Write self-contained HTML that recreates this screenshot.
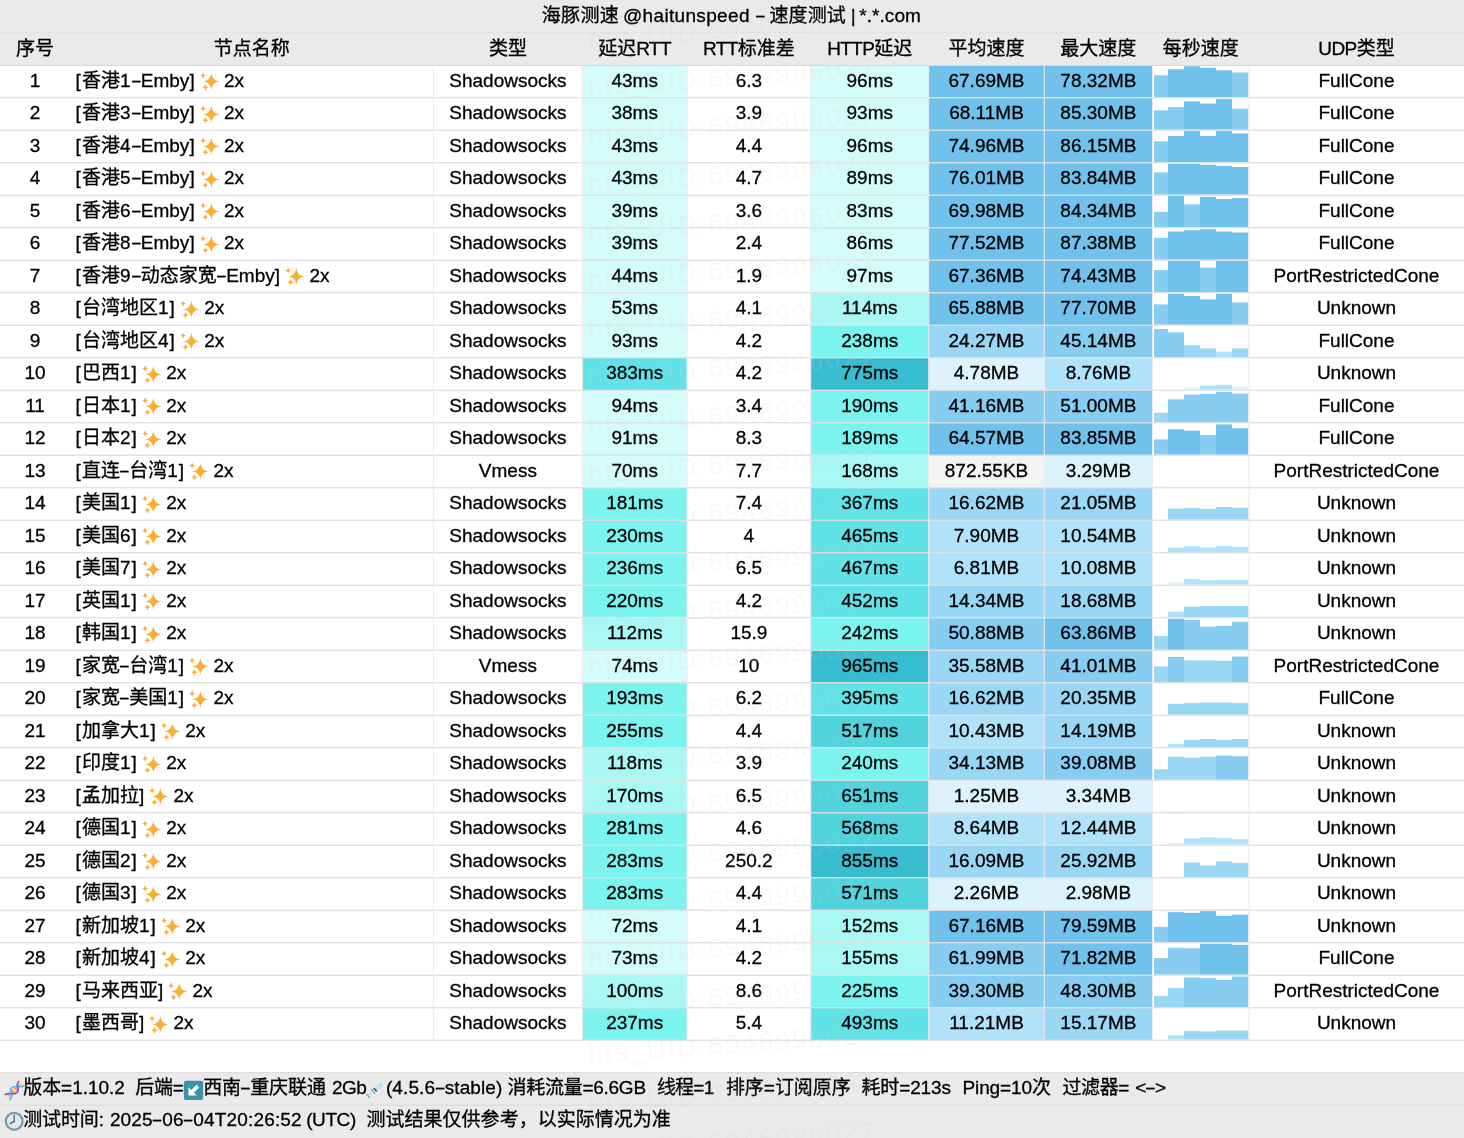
<!DOCTYPE html>
<html lang="zh-CN"><head><meta charset="utf-8"><title>海豚测速 - 速度测试</title>
<style>
html,body{margin:0;padding:0;background:#fff}
body{width:1464px;height:1138px;overflow:hidden;position:relative;font-family:"Liberation Sans","Noto Sans CJK SC",sans-serif;font-size:19px;color:#000;-webkit-text-stroke:0.3px #000}
#t{position:absolute;left:0;top:0;width:1464px;height:1138px;overflow:hidden;background:#fff}
#bg{position:absolute;left:0;top:0}
.c{position:absolute;height:32.5px;line-height:32.5px;text-align:center;white-space:nowrap}
.n{text-align:left}
.sp{display:inline-block;vertical-align:-5.6px;margin:0 4.2px 0 4.2px}
.hy{display:inline-block;transform:scaleX(1.75);margin:0 1.5px}
.dg{letter-spacing:1px}
.hl{letter-spacing:-0.6px}
.wm{position:absolute;left:588px;font-size:26px;line-height:30px;height:30px;white-space:nowrap;color:rgba(120,120,130,0.045);-webkit-text-stroke:0;transform:rotate(-4deg);transform-origin:0 50%;letter-spacing:2.4px;text-shadow:0 0 1px rgba(255,255,255,0.12)}
</style></head><body><div id="t">
<svg id="bg" width="1464" height="1138" viewBox="0 0 1464 1138">
<rect x="0.00" y="0.00" width="1464.00" height="65.50" fill="#eaeaea"/>
<rect x="0.00" y="1072.50" width="1464.00" height="66.00" fill="#eaeaea"/>
<rect x="582.40" y="65.00" width="104.60" height="32.50" fill="#d4fcfa"/>
<rect x="810.75" y="65.00" width="118.00" height="32.50" fill="#d4fcfa"/>
<rect x="928.75" y="65.00" width="115.50" height="32.50" fill="#70c1ec"/>
<rect x="1044.25" y="65.00" width="108.25" height="32.50" fill="#70c1ec"/>
<rect x="1154.00" y="75.29" width="14.00" height="21.91" fill="#86cdf1"/>
<rect x="1168.00" y="69.34" width="16.00" height="27.86" fill="#70c1ec"/>
<rect x="1184.00" y="66.21" width="16.00" height="30.99" fill="#70c1ec"/>
<rect x="1200.00" y="67.78" width="16.00" height="29.42" fill="#70c1ec"/>
<rect x="1216.00" y="70.28" width="16.00" height="26.92" fill="#70c1ec"/>
<rect x="1232.00" y="72.47" width="16.30" height="24.73" fill="#86cdf1"/>
<rect x="582.40" y="97.50" width="104.60" height="32.50" fill="#d4fcfa"/>
<rect x="810.75" y="97.50" width="118.00" height="32.50" fill="#d4fcfa"/>
<rect x="928.75" y="97.50" width="115.50" height="32.50" fill="#70c1ec"/>
<rect x="1044.25" y="97.50" width="108.25" height="32.50" fill="#70c1ec"/>
<rect x="1154.00" y="110.29" width="14.00" height="19.41" fill="#86cdf1"/>
<rect x="1168.00" y="107.16" width="16.00" height="22.54" fill="#86cdf1"/>
<rect x="1184.00" y="101.37" width="16.00" height="28.33" fill="#70c1ec"/>
<rect x="1200.00" y="103.56" width="16.00" height="26.14" fill="#70c1ec"/>
<rect x="1216.00" y="99.03" width="16.00" height="30.67" fill="#70c1ec"/>
<rect x="1232.00" y="108.73" width="16.30" height="20.97" fill="#86cdf1"/>
<rect x="582.40" y="130.00" width="104.60" height="32.50" fill="#d4fcfa"/>
<rect x="810.75" y="130.00" width="118.00" height="32.50" fill="#d4fcfa"/>
<rect x="928.75" y="130.00" width="115.50" height="32.50" fill="#70c1ec"/>
<rect x="1044.25" y="130.00" width="108.25" height="32.50" fill="#70c1ec"/>
<rect x="1154.00" y="141.32" width="14.00" height="20.88" fill="#86cdf1"/>
<rect x="1168.00" y="135.91" width="16.00" height="26.29" fill="#70c1ec"/>
<rect x="1184.00" y="131.06" width="16.00" height="31.14" fill="#70c1ec"/>
<rect x="1200.00" y="135.91" width="16.00" height="26.29" fill="#70c1ec"/>
<rect x="1216.00" y="131.06" width="16.00" height="31.14" fill="#70c1ec"/>
<rect x="1232.00" y="133.40" width="16.30" height="28.80" fill="#70c1ec"/>
<rect x="582.40" y="162.50" width="104.60" height="32.50" fill="#d4fcfa"/>
<rect x="810.75" y="162.50" width="118.00" height="32.50" fill="#d4fcfa"/>
<rect x="928.75" y="162.50" width="115.50" height="32.50" fill="#70c1ec"/>
<rect x="1044.25" y="162.50" width="108.25" height="32.50" fill="#70c1ec"/>
<rect x="1154.00" y="172.48" width="14.00" height="22.22" fill="#86cdf1"/>
<rect x="1168.00" y="163.71" width="16.00" height="30.99" fill="#70c1ec"/>
<rect x="1184.00" y="163.71" width="16.00" height="30.99" fill="#70c1ec"/>
<rect x="1200.00" y="164.75" width="16.00" height="29.95" fill="#70c1ec"/>
<rect x="1216.00" y="165.90" width="16.00" height="28.80" fill="#70c1ec"/>
<rect x="1232.00" y="167.00" width="16.30" height="27.70" fill="#70c1ec"/>
<rect x="582.40" y="195.00" width="104.60" height="32.50" fill="#d4fcfa"/>
<rect x="810.75" y="195.00" width="118.00" height="32.50" fill="#d4fcfa"/>
<rect x="928.75" y="195.00" width="115.50" height="32.50" fill="#70c1ec"/>
<rect x="1044.25" y="195.00" width="108.25" height="32.50" fill="#70c1ec"/>
<rect x="1154.00" y="211.86" width="14.00" height="15.34" fill="#86cdf1"/>
<rect x="1168.00" y="195.90" width="16.00" height="31.30" fill="#70c1ec"/>
<rect x="1184.00" y="204.35" width="16.00" height="22.85" fill="#86cdf1"/>
<rect x="1200.00" y="196.93" width="16.00" height="30.27" fill="#70c1ec"/>
<rect x="1216.00" y="199.03" width="16.00" height="28.17" fill="#70c1ec"/>
<rect x="1232.00" y="198.09" width="16.30" height="29.11" fill="#70c1ec"/>
<rect x="582.40" y="227.50" width="104.60" height="32.50" fill="#d4fcfa"/>
<rect x="810.75" y="227.50" width="118.00" height="32.50" fill="#d4fcfa"/>
<rect x="928.75" y="227.50" width="115.50" height="32.50" fill="#70c1ec"/>
<rect x="1044.25" y="227.50" width="108.25" height="32.50" fill="#70c1ec"/>
<rect x="1154.00" y="237.79" width="14.00" height="21.91" fill="#86cdf1"/>
<rect x="1168.00" y="231.53" width="16.00" height="28.17" fill="#70c1ec"/>
<rect x="1184.00" y="230.28" width="16.00" height="29.42" fill="#70c1ec"/>
<rect x="1200.00" y="229.18" width="16.00" height="30.52" fill="#70c1ec"/>
<rect x="1216.00" y="231.53" width="16.00" height="28.17" fill="#70c1ec"/>
<rect x="1232.00" y="232.47" width="16.30" height="27.23" fill="#70c1ec"/>
<rect x="582.40" y="260.00" width="104.60" height="32.50" fill="#d4fcfa"/>
<rect x="810.75" y="260.00" width="118.00" height="32.50" fill="#d4fcfa"/>
<rect x="928.75" y="260.00" width="115.50" height="32.50" fill="#70c1ec"/>
<rect x="1044.25" y="260.00" width="108.25" height="32.50" fill="#70c1ec"/>
<rect x="1154.00" y="270.13" width="14.00" height="22.07" fill="#86cdf1"/>
<rect x="1168.00" y="260.90" width="16.00" height="31.30" fill="#70c1ec"/>
<rect x="1184.00" y="260.90" width="16.00" height="31.30" fill="#70c1ec"/>
<rect x="1200.00" y="267.63" width="16.00" height="24.57" fill="#86cdf1"/>
<rect x="1216.00" y="260.90" width="16.00" height="31.30" fill="#70c1ec"/>
<rect x="1232.00" y="260.90" width="16.30" height="31.30" fill="#70c1ec"/>
<rect x="582.40" y="292.50" width="104.60" height="32.50" fill="#d4fcfa"/>
<rect x="810.75" y="292.50" width="118.00" height="32.50" fill="#a9f8f4"/>
<rect x="928.75" y="292.50" width="115.50" height="32.50" fill="#70c1ec"/>
<rect x="1044.25" y="292.50" width="108.25" height="32.50" fill="#70c1ec"/>
<rect x="1154.00" y="304.35" width="14.00" height="20.35" fill="#86cdf1"/>
<rect x="1168.00" y="293.87" width="16.00" height="30.83" fill="#70c1ec"/>
<rect x="1184.00" y="295.90" width="16.00" height="28.80" fill="#70c1ec"/>
<rect x="1200.00" y="299.35" width="16.00" height="25.35" fill="#70c1ec"/>
<rect x="1216.00" y="293.87" width="16.00" height="30.83" fill="#70c1ec"/>
<rect x="1232.00" y="302.48" width="16.30" height="22.22" fill="#86cdf1"/>
<rect x="582.40" y="325.00" width="104.60" height="32.50" fill="#d4fcfa"/>
<rect x="810.75" y="325.00" width="118.00" height="32.50" fill="#7bf4f0"/>
<rect x="928.75" y="325.00" width="115.50" height="32.50" fill="#9ad7f5"/>
<rect x="1044.25" y="325.00" width="108.25" height="32.50" fill="#86cdf1"/>
<rect x="1154.00" y="329.03" width="14.00" height="28.17" fill="#86cdf1"/>
<rect x="1168.00" y="332.47" width="16.00" height="24.73" fill="#86cdf1"/>
<rect x="1184.00" y="345.15" width="16.00" height="12.05" fill="#9ad7f5"/>
<rect x="1200.00" y="348.44" width="16.00" height="8.76" fill="#9ad7f5"/>
<rect x="1216.00" y="351.57" width="16.00" height="5.63" fill="#b0e3fa"/>
<rect x="1232.00" y="348.44" width="16.30" height="8.76" fill="#9ad7f5"/>
<rect x="582.40" y="357.50" width="104.60" height="32.50" fill="#60e2e6"/>
<rect x="810.75" y="357.50" width="118.00" height="32.50" fill="#38bcd0"/>
<rect x="928.75" y="357.50" width="115.50" height="32.50" fill="#dcf3fd"/>
<rect x="1044.25" y="357.50" width="108.25" height="32.50" fill="#b0e3fa"/>
<rect x="1184.00" y="387.51" width="16.00" height="2.19" fill="#dcf3fd"/>
<rect x="1200.00" y="385.63" width="16.00" height="4.07" fill="#b0e3fa"/>
<rect x="1216.00" y="384.85" width="16.00" height="4.85" fill="#b0e3fa"/>
<rect x="1232.00" y="386.41" width="16.30" height="3.29" fill="#dcf3fd"/>
<rect x="582.40" y="390.00" width="104.60" height="32.50" fill="#d4fcfa"/>
<rect x="810.75" y="390.00" width="118.00" height="32.50" fill="#7bf4f0"/>
<rect x="928.75" y="390.00" width="115.50" height="32.50" fill="#86cdf1"/>
<rect x="1044.25" y="390.00" width="108.25" height="32.50" fill="#86cdf1"/>
<rect x="1154.00" y="412.65" width="14.00" height="9.55" fill="#9ad7f5"/>
<rect x="1168.00" y="399.35" width="16.00" height="22.85" fill="#86cdf1"/>
<rect x="1184.00" y="394.66" width="16.00" height="27.54" fill="#86cdf1"/>
<rect x="1200.00" y="393.87" width="16.00" height="28.33" fill="#86cdf1"/>
<rect x="1216.00" y="391.93" width="16.00" height="30.27" fill="#86cdf1"/>
<rect x="1232.00" y="393.56" width="16.30" height="28.64" fill="#86cdf1"/>
<rect x="582.40" y="422.50" width="104.60" height="32.50" fill="#d4fcfa"/>
<rect x="810.75" y="422.50" width="118.00" height="32.50" fill="#7bf4f0"/>
<rect x="928.75" y="422.50" width="115.50" height="32.50" fill="#70c1ec"/>
<rect x="1044.25" y="422.50" width="108.25" height="32.50" fill="#70c1ec"/>
<rect x="1154.00" y="439.36" width="14.00" height="15.34" fill="#86cdf1"/>
<rect x="1168.00" y="429.35" width="16.00" height="25.35" fill="#70c1ec"/>
<rect x="1184.00" y="430.60" width="16.00" height="24.10" fill="#70c1ec"/>
<rect x="1200.00" y="434.98" width="16.00" height="19.72" fill="#86cdf1"/>
<rect x="1216.00" y="424.34" width="16.00" height="30.36" fill="#70c1ec"/>
<rect x="1232.00" y="428.25" width="16.30" height="26.45" fill="#70c1ec"/>
<rect x="582.40" y="455.00" width="104.60" height="32.50" fill="#d4fcfa"/>
<rect x="810.75" y="455.00" width="118.00" height="32.50" fill="#a9f8f4"/>
<rect x="928.75" y="455.00" width="115.50" height="32.50" fill="#f3f3f3"/>
<rect x="1044.25" y="455.00" width="108.25" height="32.50" fill="#dcf3fd"/>
<rect x="1154.00" y="486.57" width="14.00" height="0.63" fill="#dcf3fd"/>
<rect x="1168.00" y="486.73" width="16.00" height="0.47" fill="#dcf3fd"/>
<rect x="582.40" y="487.50" width="104.60" height="32.50" fill="#7bf4f0"/>
<rect x="810.75" y="487.50" width="118.00" height="32.50" fill="#60e2e6"/>
<rect x="928.75" y="487.50" width="115.50" height="32.50" fill="#9ad7f5"/>
<rect x="1044.25" y="487.50" width="108.25" height="32.50" fill="#9ad7f5"/>
<rect x="1168.00" y="508.53" width="16.00" height="11.17" fill="#9ad7f5"/>
<rect x="1184.00" y="507.93" width="16.00" height="11.77" fill="#9ad7f5"/>
<rect x="1200.00" y="508.81" width="16.00" height="10.89" fill="#9ad7f5"/>
<rect x="1216.00" y="507.02" width="16.00" height="12.68" fill="#9ad7f5"/>
<rect x="1232.00" y="507.81" width="16.30" height="11.89" fill="#9ad7f5"/>
<rect x="582.40" y="520.00" width="104.60" height="32.50" fill="#7bf4f0"/>
<rect x="810.75" y="520.00" width="118.00" height="32.50" fill="#60e2e6"/>
<rect x="928.75" y="520.00" width="115.50" height="32.50" fill="#b0e3fa"/>
<rect x="1044.25" y="520.00" width="108.25" height="32.50" fill="#b0e3fa"/>
<rect x="1168.00" y="547.72" width="16.00" height="4.48" fill="#b0e3fa"/>
<rect x="1184.00" y="546.25" width="16.00" height="5.95" fill="#b0e3fa"/>
<rect x="1200.00" y="547.44" width="16.00" height="4.76" fill="#b0e3fa"/>
<rect x="1216.00" y="545.94" width="16.00" height="6.26" fill="#b0e3fa"/>
<rect x="1232.00" y="546.97" width="16.30" height="5.23" fill="#b0e3fa"/>
<rect x="582.40" y="552.50" width="104.60" height="32.50" fill="#7bf4f0"/>
<rect x="810.75" y="552.50" width="118.00" height="32.50" fill="#60e2e6"/>
<rect x="928.75" y="552.50" width="115.50" height="32.50" fill="#b0e3fa"/>
<rect x="1044.25" y="552.50" width="108.25" height="32.50" fill="#b0e3fa"/>
<rect x="1168.00" y="582.51" width="16.00" height="2.19" fill="#dcf3fd"/>
<rect x="1184.00" y="579.07" width="16.00" height="5.63" fill="#b0e3fa"/>
<rect x="1200.00" y="580.32" width="16.00" height="4.38" fill="#b0e3fa"/>
<rect x="1216.00" y="579.85" width="16.00" height="4.85" fill="#b0e3fa"/>
<rect x="1232.00" y="579.85" width="16.30" height="4.85" fill="#b0e3fa"/>
<rect x="582.40" y="585.00" width="104.60" height="32.50" fill="#7bf4f0"/>
<rect x="810.75" y="585.00" width="118.00" height="32.50" fill="#60e2e6"/>
<rect x="928.75" y="585.00" width="115.50" height="32.50" fill="#9ad7f5"/>
<rect x="1044.25" y="585.00" width="108.25" height="32.50" fill="#9ad7f5"/>
<rect x="1168.00" y="611.57" width="16.00" height="5.63" fill="#b0e3fa"/>
<rect x="1184.00" y="606.62" width="16.00" height="10.58" fill="#9ad7f5"/>
<rect x="1200.00" y="606.03" width="16.00" height="11.17" fill="#9ad7f5"/>
<rect x="1216.00" y="606.03" width="16.00" height="11.17" fill="#9ad7f5"/>
<rect x="1232.00" y="606.03" width="16.30" height="11.17" fill="#9ad7f5"/>
<rect x="582.40" y="617.50" width="104.60" height="32.50" fill="#a9f8f4"/>
<rect x="810.75" y="617.50" width="118.00" height="32.50" fill="#7bf4f0"/>
<rect x="928.75" y="617.50" width="115.50" height="32.50" fill="#86cdf1"/>
<rect x="1044.25" y="617.50" width="108.25" height="32.50" fill="#70c1ec"/>
<rect x="1154.00" y="636.01" width="14.00" height="13.69" fill="#9ad7f5"/>
<rect x="1168.00" y="618.71" width="16.00" height="30.99" fill="#70c1ec"/>
<rect x="1184.00" y="619.97" width="16.00" height="29.73" fill="#86cdf1"/>
<rect x="1200.00" y="626.69" width="16.00" height="23.01" fill="#86cdf1"/>
<rect x="1216.00" y="625.91" width="16.00" height="23.79" fill="#86cdf1"/>
<rect x="1232.00" y="621.84" width="16.30" height="27.86" fill="#86cdf1"/>
<rect x="582.40" y="650.00" width="104.60" height="32.50" fill="#d4fcfa"/>
<rect x="810.75" y="650.00" width="118.00" height="32.50" fill="#38bcd0"/>
<rect x="928.75" y="650.00" width="115.50" height="32.50" fill="#9ad7f5"/>
<rect x="1044.25" y="650.00" width="108.25" height="32.50" fill="#86cdf1"/>
<rect x="1154.00" y="666.39" width="14.00" height="15.81" fill="#9ad7f5"/>
<rect x="1168.00" y="656.85" width="16.00" height="25.35" fill="#86cdf1"/>
<rect x="1184.00" y="660.29" width="16.00" height="21.91" fill="#9ad7f5"/>
<rect x="1200.00" y="660.29" width="16.00" height="21.91" fill="#9ad7f5"/>
<rect x="1216.00" y="660.60" width="16.00" height="21.60" fill="#9ad7f5"/>
<rect x="1232.00" y="656.53" width="16.30" height="25.67" fill="#86cdf1"/>
<rect x="582.40" y="682.50" width="104.60" height="32.50" fill="#7bf4f0"/>
<rect x="810.75" y="682.50" width="118.00" height="32.50" fill="#60e2e6"/>
<rect x="928.75" y="682.50" width="115.50" height="32.50" fill="#9ad7f5"/>
<rect x="1044.25" y="682.50" width="108.25" height="32.50" fill="#9ad7f5"/>
<rect x="1168.00" y="703.75" width="16.00" height="10.96" fill="#9ad7f5"/>
<rect x="1184.00" y="702.96" width="16.00" height="11.74" fill="#9ad7f5"/>
<rect x="1200.00" y="702.49" width="16.00" height="12.21" fill="#9ad7f5"/>
<rect x="1216.00" y="702.49" width="16.00" height="12.21" fill="#9ad7f5"/>
<rect x="1232.00" y="702.96" width="16.30" height="11.74" fill="#9ad7f5"/>
<rect x="582.40" y="715.00" width="104.60" height="32.50" fill="#7bf4f0"/>
<rect x="810.75" y="715.00" width="118.00" height="32.50" fill="#50d3dc"/>
<rect x="928.75" y="715.00" width="115.50" height="32.50" fill="#b0e3fa"/>
<rect x="1044.25" y="715.00" width="108.25" height="32.50" fill="#9ad7f5"/>
<rect x="1168.00" y="743.91" width="16.00" height="3.29" fill="#b0e3fa"/>
<rect x="1184.00" y="739.91" width="16.00" height="7.29" fill="#9ad7f5"/>
<rect x="1200.00" y="739.00" width="16.00" height="8.20" fill="#9ad7f5"/>
<rect x="1216.00" y="739.91" width="16.00" height="7.29" fill="#9ad7f5"/>
<rect x="1232.00" y="739.00" width="16.30" height="8.20" fill="#9ad7f5"/>
<rect x="582.40" y="747.50" width="104.60" height="32.50" fill="#a9f8f4"/>
<rect x="810.75" y="747.50" width="118.00" height="32.50" fill="#7bf4f0"/>
<rect x="928.75" y="747.50" width="115.50" height="32.50" fill="#9ad7f5"/>
<rect x="1044.25" y="747.50" width="108.25" height="32.50" fill="#86cdf1"/>
<rect x="1154.00" y="769.28" width="14.00" height="10.42" fill="#9ad7f5"/>
<rect x="1168.00" y="756.76" width="16.00" height="22.94" fill="#9ad7f5"/>
<rect x="1184.00" y="757.79" width="16.00" height="21.91" fill="#9ad7f5"/>
<rect x="1200.00" y="756.76" width="16.00" height="22.94" fill="#9ad7f5"/>
<rect x="1216.00" y="755.60" width="16.00" height="24.10" fill="#86cdf1"/>
<rect x="1232.00" y="756.23" width="16.30" height="23.48" fill="#86cdf1"/>
<rect x="582.40" y="780.00" width="104.60" height="32.50" fill="#a9f8f4"/>
<rect x="810.75" y="780.00" width="118.00" height="32.50" fill="#50d3dc"/>
<rect x="928.75" y="780.00" width="115.50" height="32.50" fill="#dcf3fd"/>
<rect x="1044.25" y="780.00" width="108.25" height="32.50" fill="#dcf3fd"/>
<rect x="1168.00" y="811.26" width="16.00" height="0.94" fill="#dcf3fd"/>
<rect x="1184.00" y="811.42" width="16.00" height="0.78" fill="#dcf3fd"/>
<rect x="582.40" y="812.50" width="104.60" height="32.50" fill="#7bf4f0"/>
<rect x="810.75" y="812.50" width="118.00" height="32.50" fill="#50d3dc"/>
<rect x="928.75" y="812.50" width="115.50" height="32.50" fill="#b0e3fa"/>
<rect x="1044.25" y="812.50" width="108.25" height="32.50" fill="#b0e3fa"/>
<rect x="1168.00" y="843.13" width="16.00" height="1.57" fill="#dcf3fd"/>
<rect x="1184.00" y="838.44" width="16.00" height="6.26" fill="#b0e3fa"/>
<rect x="1200.00" y="837.34" width="16.00" height="7.36" fill="#b0e3fa"/>
<rect x="1216.00" y="838.13" width="16.00" height="6.57" fill="#b0e3fa"/>
<rect x="1232.00" y="839.16" width="16.30" height="5.54" fill="#b0e3fa"/>
<rect x="582.40" y="845.00" width="104.60" height="32.50" fill="#7bf4f0"/>
<rect x="810.75" y="845.00" width="118.00" height="32.50" fill="#38bcd0"/>
<rect x="928.75" y="845.00" width="115.50" height="32.50" fill="#9ad7f5"/>
<rect x="1044.25" y="845.00" width="108.25" height="32.50" fill="#9ad7f5"/>
<rect x="1168.00" y="876.42" width="16.00" height="0.78" fill="#dcf3fd"/>
<rect x="1184.00" y="862.49" width="16.00" height="14.71" fill="#9ad7f5"/>
<rect x="1200.00" y="865.46" width="16.00" height="11.74" fill="#9ad7f5"/>
<rect x="1216.00" y="861.39" width="16.00" height="15.81" fill="#9ad7f5"/>
<rect x="1232.00" y="862.90" width="16.30" height="14.30" fill="#9ad7f5"/>
<rect x="582.40" y="877.50" width="104.60" height="32.50" fill="#7bf4f0"/>
<rect x="810.75" y="877.50" width="118.00" height="32.50" fill="#50d3dc"/>
<rect x="928.75" y="877.50" width="115.50" height="32.50" fill="#dcf3fd"/>
<rect x="1044.25" y="877.50" width="108.25" height="32.50" fill="#dcf3fd"/>
<rect x="1184.00" y="909.07" width="16.00" height="0.63" fill="#dcf3fd"/>
<rect x="1200.00" y="909.07" width="16.00" height="0.63" fill="#dcf3fd"/>
<rect x="1216.00" y="909.07" width="16.00" height="0.63" fill="#dcf3fd"/>
<rect x="1232.00" y="909.07" width="16.30" height="0.63" fill="#dcf3fd"/>
<rect x="582.40" y="910.00" width="104.60" height="32.50" fill="#d4fcfa"/>
<rect x="810.75" y="910.00" width="118.00" height="32.50" fill="#a9f8f4"/>
<rect x="928.75" y="910.00" width="115.50" height="32.50" fill="#70c1ec"/>
<rect x="1044.25" y="910.00" width="108.25" height="32.50" fill="#70c1ec"/>
<rect x="1154.00" y="926.86" width="14.00" height="15.34" fill="#86cdf1"/>
<rect x="1168.00" y="912.15" width="16.00" height="30.05" fill="#70c1ec"/>
<rect x="1184.00" y="912.86" width="16.00" height="29.34" fill="#70c1ec"/>
<rect x="1200.00" y="911.06" width="16.00" height="31.14" fill="#70c1ec"/>
<rect x="1216.00" y="915.91" width="16.00" height="26.29" fill="#70c1ec"/>
<rect x="1232.00" y="914.66" width="16.30" height="27.54" fill="#70c1ec"/>
<rect x="582.40" y="942.50" width="104.60" height="32.50" fill="#d4fcfa"/>
<rect x="810.75" y="942.50" width="118.00" height="32.50" fill="#a9f8f4"/>
<rect x="928.75" y="942.50" width="115.50" height="32.50" fill="#86cdf1"/>
<rect x="1044.25" y="942.50" width="108.25" height="32.50" fill="#70c1ec"/>
<rect x="1154.00" y="958.11" width="14.00" height="16.59" fill="#86cdf1"/>
<rect x="1168.00" y="947.78" width="16.00" height="26.92" fill="#86cdf1"/>
<rect x="1184.00" y="948.25" width="16.00" height="26.45" fill="#86cdf1"/>
<rect x="1200.00" y="943.71" width="16.00" height="30.99" fill="#70c1ec"/>
<rect x="1216.00" y="943.71" width="16.00" height="30.99" fill="#70c1ec"/>
<rect x="1232.00" y="944.75" width="16.30" height="29.95" fill="#70c1ec"/>
<rect x="582.40" y="975.00" width="104.60" height="32.50" fill="#a9f8f4"/>
<rect x="810.75" y="975.00" width="118.00" height="32.50" fill="#7bf4f0"/>
<rect x="928.75" y="975.00" width="115.50" height="32.50" fill="#86cdf1"/>
<rect x="1044.25" y="975.00" width="108.25" height="32.50" fill="#86cdf1"/>
<rect x="1154.00" y="995.93" width="14.00" height="11.27" fill="#9ad7f5"/>
<rect x="1168.00" y="988.11" width="16.00" height="19.09" fill="#9ad7f5"/>
<rect x="1184.00" y="977.47" width="16.00" height="29.73" fill="#86cdf1"/>
<rect x="1200.00" y="978.09" width="16.00" height="29.11" fill="#86cdf1"/>
<rect x="1216.00" y="979.97" width="16.00" height="27.23" fill="#86cdf1"/>
<rect x="1232.00" y="976.53" width="16.30" height="30.67" fill="#86cdf1"/>
<rect x="582.40" y="1007.50" width="104.60" height="32.50" fill="#7bf4f0"/>
<rect x="810.75" y="1007.50" width="118.00" height="32.50" fill="#60e2e6"/>
<rect x="928.75" y="1007.50" width="115.50" height="32.50" fill="#b0e3fa"/>
<rect x="1044.25" y="1007.50" width="108.25" height="32.50" fill="#9ad7f5"/>
<rect x="1168.00" y="1035.47" width="16.00" height="4.23" fill="#b0e3fa"/>
<rect x="1184.00" y="1030.94" width="16.00" height="8.76" fill="#9ad7f5"/>
<rect x="1200.00" y="1031.41" width="16.00" height="8.29" fill="#9ad7f5"/>
<rect x="1216.00" y="1030.62" width="16.00" height="9.08" fill="#9ad7f5"/>
<rect x="1232.00" y="1030.62" width="16.30" height="9.08" fill="#9ad7f5"/>
<rect x="0" y="97.10" width="1464" height="1.3" fill="#e0e0e0"/>
<rect x="0" y="129.60" width="1464" height="1.3" fill="#e0e0e0"/>
<rect x="0" y="162.10" width="1464" height="1.3" fill="#e0e0e0"/>
<rect x="0" y="194.60" width="1464" height="1.3" fill="#e0e0e0"/>
<rect x="0" y="227.10" width="1464" height="1.3" fill="#e0e0e0"/>
<rect x="0" y="259.60" width="1464" height="1.3" fill="#e0e0e0"/>
<rect x="0" y="292.10" width="1464" height="1.3" fill="#e0e0e0"/>
<rect x="0" y="324.60" width="1464" height="1.3" fill="#e0e0e0"/>
<rect x="0" y="357.10" width="1464" height="1.3" fill="#e0e0e0"/>
<rect x="0" y="389.60" width="1464" height="1.3" fill="#e0e0e0"/>
<rect x="0" y="422.10" width="1464" height="1.3" fill="#e0e0e0"/>
<rect x="0" y="454.60" width="1464" height="1.3" fill="#e0e0e0"/>
<rect x="0" y="487.10" width="1464" height="1.3" fill="#e0e0e0"/>
<rect x="0" y="519.60" width="1464" height="1.3" fill="#e0e0e0"/>
<rect x="0" y="552.10" width="1464" height="1.3" fill="#e0e0e0"/>
<rect x="0" y="584.60" width="1464" height="1.3" fill="#e0e0e0"/>
<rect x="0" y="617.10" width="1464" height="1.3" fill="#e0e0e0"/>
<rect x="0" y="649.60" width="1464" height="1.3" fill="#e0e0e0"/>
<rect x="0" y="682.10" width="1464" height="1.3" fill="#e0e0e0"/>
<rect x="0" y="714.60" width="1464" height="1.3" fill="#e0e0e0"/>
<rect x="0" y="747.10" width="1464" height="1.3" fill="#e0e0e0"/>
<rect x="0" y="779.60" width="1464" height="1.3" fill="#e0e0e0"/>
<rect x="0" y="812.10" width="1464" height="1.3" fill="#e0e0e0"/>
<rect x="0" y="844.60" width="1464" height="1.3" fill="#e0e0e0"/>
<rect x="0" y="877.10" width="1464" height="1.3" fill="#e0e0e0"/>
<rect x="0" y="909.60" width="1464" height="1.3" fill="#e0e0e0"/>
<rect x="0" y="942.10" width="1464" height="1.3" fill="#e0e0e0"/>
<rect x="0" y="974.60" width="1464" height="1.3" fill="#e0e0e0"/>
<rect x="0" y="1007.10" width="1464" height="1.3" fill="#e0e0e0"/>
<rect x="0" y="1039.60" width="1464" height="1.3" fill="#e0e0e0"/>
<rect x="0" y="32.2" width="1464" height="1" fill="#e3e1e1"/>
<rect x="0" y="64.8" width="1464" height="1.2" fill="#dcd9d9"/>
<rect x="0" y="1072" width="1464" height="1.2" fill="#e2dcdc"/>
<rect x="0" y="1104.6" width="1464" height="1.2" fill="#dddddd"/>
<rect x="432.90" y="65.5" width="1" height="975" fill="#efe8e8"/>
<rect x="581.90" y="65.5" width="1" height="975" fill="#efe8e8"/>
<rect x="686.50" y="65.5" width="1" height="975" fill="#efe8e8"/>
<rect x="810.25" y="65.5" width="1" height="975" fill="#efe8e8"/>
<rect x="928.25" y="65.5" width="1" height="975" fill="#efe8e8"/>
<rect x="1043.75" y="65.5" width="1" height="975" fill="#efe8e8"/>
<rect x="1152.00" y="65.5" width="1" height="975" fill="#efe8e8"/>
<rect x="1248.50" y="65.5" width="1" height="975" fill="#efe8e8"/>
<g transform="translate(3 1079)" fill="none" stroke-linecap="round" stroke-linejoin="round"><g stroke-width="1.3"><path d="M15.9 5.0 L18.9 5.6" stroke="#ffcc4d"/><path d="M15.3 6.5 L17.6 7.2" stroke="#f9a825"/><path d="M15.6 3.9 L17.5 4.0" stroke="#dfe9ee"/><path d="M9.6 12.4 L11.0 13.6" stroke="#f9a825"/><path d="M10.4 10.6 L12.6 12.2" stroke="#ffcc4d"/><path d="M11.6 9.2 L13.8 10.8" stroke="#f9a825"/><path d="M9.2 11.6 L9.9 12.6" stroke="#f0616d"/><path d="M13.4 9.9 L14.0 10.8" stroke="#f0616d"/><path d="M5.2 15.6 L7.4 17.0" stroke="#f9a825"/><path d="M4.6 17.2 L6.6 19.0" stroke="#ffcc4d"/><path d="M4.6 15.0 L5.6 15.4" stroke="#f0616d"/></g><path d="M20.7 6.8 C18.5 8.4 15 7.4 11.3 7.8 C8.6 8.2 7.0 10 7.6 12 C8.1 13.8 9.4 15 8.7 17.3 C8.4 18.6 7.8 19.6 6.9 20.6" stroke="#4db5f0" stroke-width="1.6"/><path d="M15.7 2.4 C14.6 3.8 14.0 5.6 14.3 7.3 C14.6 8.8 15.6 9.6 15.2 11.2 C14.8 13 13.8 14.2 12.0 14.6 C9.6 15.1 7.6 14.3 5.4 14.6 C4.0 14.8 3.0 15.2 2.2 15.7" stroke="#8a4fd0" stroke-width="1.6"/></g>
<g transform="translate(183.9 1080.8)"><rect x="0" y="0" width="19.2" height="19.2" rx="2.2" fill="#3c91a6"/><path d="M4.5 6.5 L7.3 9.3 L12.6 4.0 L15.3 6.7 L10.0 12.0 L12.9 14.8 L4.5 14.8Z" fill="#fff"/></g>
<g transform="translate(367.1 1096.6) rotate(-40)"><rect x="0.6" y="-2.5" width="1.3" height="5" fill="#6baabb"/><rect x="1.9" y="-0.7" width="6" height="1.4" fill="#c5dfe8"/><rect x="7.4" y="-3.1" width="1.2" height="6.2" fill="#5b9eb0"/><rect x="8.6" y="-2.2" width="9.2" height="4.4" fill="#bde6f6"/><rect x="10.0" y="-2.2" width="1.3" height="4.4" fill="#2a3439"/><path d="M17.8 -2.2 L19.8 -0.8 L19.8 0.8 L17.8 2.2Z" fill="#a9dcf2"/><rect x="19.8" y="-0.35" width="4.6" height="0.7" fill="#c4e4f0"/></g>
<g transform="translate(14.2 1121.3)"><circle r="8.4" fill="#dfe9ee" stroke="#6f9ba7" stroke-width="2.1"/><path d="M0 0.4 L0 -6" stroke="#3e4b52" stroke-width="1.1" stroke-linecap="round" fill="none"/><path d="M0 0 L-4 2.4" stroke="#3e4b52" stroke-width="1.1" stroke-linecap="round" fill="none"/></g>
</svg>
<div class="c n" style="left:541.8px;top:0.4px"><span id="s0" style="letter-spacing:0.296px">海豚测速</span></div>
<div class="c n" style="left:623px;top:0.4px"><span id="s1" style="letter-spacing:0.331px">@haitunspeed</span></div>
<div class="c n" style="left:755.5px;top:0.4px"><span id="s2" style="letter-spacing:-0.128px"><span class="hy">-</span></span></div>
<div class="c n" style="left:769.5px;top:0.4px"><span id="s3" style="letter-spacing:0.071px">速度测试</span></div>
<div class="c n" style="left:850.7px;top:0.4px"><span id="s4" style="letter-spacing:-1.837px">|</span></div>
<div class="c n" style="left:859.2px;top:0.4px"><span id="s5" style="letter-spacing:0.079px">*.*.com</span></div>
<div class="c" style="left:0px;top:32.8px;width:70px">序号</div>
<div class="c" style="left:70px;top:32.8px;width:363.4px">节点名称</div>
<div class="c" style="left:433.4px;top:32.8px;width:149px">类型</div>
<div class="c" style="left:582.4px;top:32.8px;width:104.6px">延迟<span class="hl">RTT</span></div>
<div class="c" style="left:687px;top:32.8px;width:123.75px"><span class="hl">RTT</span>标准差</div>
<div class="c" style="left:810.75px;top:32.8px;width:118px"><span class="hl">HTTP</span>延迟</div>
<div class="c" style="left:928.75px;top:32.8px;width:115.5px">平均速度</div>
<div class="c" style="left:1044.25px;top:32.8px;width:108.25px">最大速度</div>
<div class="c" style="left:1152.5px;top:32.8px;width:96.5px">每秒速度</div>
<div class="c" style="left:1249px;top:32.8px;width:215px"><span class="hl">UDP</span>类型</div>
<div class="c" style="left:0px;top:64.8px;width:70px">1</div>
<div class="c n" style="left:75.6px;top:64.8px;width:355px"><span class="dg">[</span>香港<span class="dg">1</span><span class="hy">-</span>Emby<span class="dg">]</span><svg class="sp" width="20" height="20" viewBox="0 0 20 20"><path d="M11.30 0.80 Q12.08 8.54 19.10 9.40 Q12.08 10.26 11.30 18.00 Q10.52 10.26 3.50 9.40 Q10.52 8.54 11.30 0.80ZM3.10 0.60 Q3.47 3.24 6.20 3.60 Q3.47 3.96 3.10 6.60 Q2.73 3.96 0.00 3.60 Q2.73 3.24 3.10 0.60ZM5.40 11.90 Q5.75 14.89 8.30 15.30 Q5.75 15.71 5.40 18.70 Q5.05 15.71 2.50 15.30 Q5.05 14.89 5.40 11.90Z" fill="#ffac33"/></svg>2x</div>
<div class="c" style="left:433.4px;top:64.8px;width:149px">Shadowsocks</div>
<div class="c" style="left:582.4px;top:64.8px;width:104.6px">43ms</div>
<div class="c" style="left:687px;top:64.8px;width:123.75px">6.3</div>
<div class="c" style="left:810.75px;top:64.8px;width:118px">96ms</div>
<div class="c" style="left:928.75px;top:64.8px;width:115.5px">67.69MB</div>
<div class="c" style="left:1044.25px;top:64.8px;width:108.25px">78.32MB</div>
<div class="c" style="left:1249px;top:64.8px;width:215px">FullCone</div>
<div class="c" style="left:0px;top:97.3px;width:70px">2</div>
<div class="c n" style="left:75.6px;top:97.3px;width:355px"><span class="dg">[</span>香港<span class="dg">3</span><span class="hy">-</span>Emby<span class="dg">]</span><svg class="sp" width="20" height="20" viewBox="0 0 20 20"><path d="M11.30 0.80 Q12.08 8.54 19.10 9.40 Q12.08 10.26 11.30 18.00 Q10.52 10.26 3.50 9.40 Q10.52 8.54 11.30 0.80ZM3.10 0.60 Q3.47 3.24 6.20 3.60 Q3.47 3.96 3.10 6.60 Q2.73 3.96 0.00 3.60 Q2.73 3.24 3.10 0.60ZM5.40 11.90 Q5.75 14.89 8.30 15.30 Q5.75 15.71 5.40 18.70 Q5.05 15.71 2.50 15.30 Q5.05 14.89 5.40 11.90Z" fill="#ffac33"/></svg>2x</div>
<div class="c" style="left:433.4px;top:97.3px;width:149px">Shadowsocks</div>
<div class="c" style="left:582.4px;top:97.3px;width:104.6px">38ms</div>
<div class="c" style="left:687px;top:97.3px;width:123.75px">3.9</div>
<div class="c" style="left:810.75px;top:97.3px;width:118px">93ms</div>
<div class="c" style="left:928.75px;top:97.3px;width:115.5px">68.11MB</div>
<div class="c" style="left:1044.25px;top:97.3px;width:108.25px">85.30MB</div>
<div class="c" style="left:1249px;top:97.3px;width:215px">FullCone</div>
<div class="c" style="left:0px;top:129.8px;width:70px">3</div>
<div class="c n" style="left:75.6px;top:129.8px;width:355px"><span class="dg">[</span>香港<span class="dg">4</span><span class="hy">-</span>Emby<span class="dg">]</span><svg class="sp" width="20" height="20" viewBox="0 0 20 20"><path d="M11.30 0.80 Q12.08 8.54 19.10 9.40 Q12.08 10.26 11.30 18.00 Q10.52 10.26 3.50 9.40 Q10.52 8.54 11.30 0.80ZM3.10 0.60 Q3.47 3.24 6.20 3.60 Q3.47 3.96 3.10 6.60 Q2.73 3.96 0.00 3.60 Q2.73 3.24 3.10 0.60ZM5.40 11.90 Q5.75 14.89 8.30 15.30 Q5.75 15.71 5.40 18.70 Q5.05 15.71 2.50 15.30 Q5.05 14.89 5.40 11.90Z" fill="#ffac33"/></svg>2x</div>
<div class="c" style="left:433.4px;top:129.8px;width:149px">Shadowsocks</div>
<div class="c" style="left:582.4px;top:129.8px;width:104.6px">43ms</div>
<div class="c" style="left:687px;top:129.8px;width:123.75px">4.4</div>
<div class="c" style="left:810.75px;top:129.8px;width:118px">96ms</div>
<div class="c" style="left:928.75px;top:129.8px;width:115.5px">74.96MB</div>
<div class="c" style="left:1044.25px;top:129.8px;width:108.25px">86.15MB</div>
<div class="c" style="left:1249px;top:129.8px;width:215px">FullCone</div>
<div class="c" style="left:0px;top:162.3px;width:70px">4</div>
<div class="c n" style="left:75.6px;top:162.3px;width:355px"><span class="dg">[</span>香港<span class="dg">5</span><span class="hy">-</span>Emby<span class="dg">]</span><svg class="sp" width="20" height="20" viewBox="0 0 20 20"><path d="M11.30 0.80 Q12.08 8.54 19.10 9.40 Q12.08 10.26 11.30 18.00 Q10.52 10.26 3.50 9.40 Q10.52 8.54 11.30 0.80ZM3.10 0.60 Q3.47 3.24 6.20 3.60 Q3.47 3.96 3.10 6.60 Q2.73 3.96 0.00 3.60 Q2.73 3.24 3.10 0.60ZM5.40 11.90 Q5.75 14.89 8.30 15.30 Q5.75 15.71 5.40 18.70 Q5.05 15.71 2.50 15.30 Q5.05 14.89 5.40 11.90Z" fill="#ffac33"/></svg>2x</div>
<div class="c" style="left:433.4px;top:162.3px;width:149px">Shadowsocks</div>
<div class="c" style="left:582.4px;top:162.3px;width:104.6px">43ms</div>
<div class="c" style="left:687px;top:162.3px;width:123.75px">4.7</div>
<div class="c" style="left:810.75px;top:162.3px;width:118px">89ms</div>
<div class="c" style="left:928.75px;top:162.3px;width:115.5px">76.01MB</div>
<div class="c" style="left:1044.25px;top:162.3px;width:108.25px">83.84MB</div>
<div class="c" style="left:1249px;top:162.3px;width:215px">FullCone</div>
<div class="c" style="left:0px;top:194.8px;width:70px">5</div>
<div class="c n" style="left:75.6px;top:194.8px;width:355px"><span class="dg">[</span>香港<span class="dg">6</span><span class="hy">-</span>Emby<span class="dg">]</span><svg class="sp" width="20" height="20" viewBox="0 0 20 20"><path d="M11.30 0.80 Q12.08 8.54 19.10 9.40 Q12.08 10.26 11.30 18.00 Q10.52 10.26 3.50 9.40 Q10.52 8.54 11.30 0.80ZM3.10 0.60 Q3.47 3.24 6.20 3.60 Q3.47 3.96 3.10 6.60 Q2.73 3.96 0.00 3.60 Q2.73 3.24 3.10 0.60ZM5.40 11.90 Q5.75 14.89 8.30 15.30 Q5.75 15.71 5.40 18.70 Q5.05 15.71 2.50 15.30 Q5.05 14.89 5.40 11.90Z" fill="#ffac33"/></svg>2x</div>
<div class="c" style="left:433.4px;top:194.8px;width:149px">Shadowsocks</div>
<div class="c" style="left:582.4px;top:194.8px;width:104.6px">39ms</div>
<div class="c" style="left:687px;top:194.8px;width:123.75px">3.6</div>
<div class="c" style="left:810.75px;top:194.8px;width:118px">83ms</div>
<div class="c" style="left:928.75px;top:194.8px;width:115.5px">69.98MB</div>
<div class="c" style="left:1044.25px;top:194.8px;width:108.25px">84.34MB</div>
<div class="c" style="left:1249px;top:194.8px;width:215px">FullCone</div>
<div class="c" style="left:0px;top:227.3px;width:70px">6</div>
<div class="c n" style="left:75.6px;top:227.3px;width:355px"><span class="dg">[</span>香港<span class="dg">8</span><span class="hy">-</span>Emby<span class="dg">]</span><svg class="sp" width="20" height="20" viewBox="0 0 20 20"><path d="M11.30 0.80 Q12.08 8.54 19.10 9.40 Q12.08 10.26 11.30 18.00 Q10.52 10.26 3.50 9.40 Q10.52 8.54 11.30 0.80ZM3.10 0.60 Q3.47 3.24 6.20 3.60 Q3.47 3.96 3.10 6.60 Q2.73 3.96 0.00 3.60 Q2.73 3.24 3.10 0.60ZM5.40 11.90 Q5.75 14.89 8.30 15.30 Q5.75 15.71 5.40 18.70 Q5.05 15.71 2.50 15.30 Q5.05 14.89 5.40 11.90Z" fill="#ffac33"/></svg>2x</div>
<div class="c" style="left:433.4px;top:227.3px;width:149px">Shadowsocks</div>
<div class="c" style="left:582.4px;top:227.3px;width:104.6px">39ms</div>
<div class="c" style="left:687px;top:227.3px;width:123.75px">2.4</div>
<div class="c" style="left:810.75px;top:227.3px;width:118px">86ms</div>
<div class="c" style="left:928.75px;top:227.3px;width:115.5px">77.52MB</div>
<div class="c" style="left:1044.25px;top:227.3px;width:108.25px">87.38MB</div>
<div class="c" style="left:1249px;top:227.3px;width:215px">FullCone</div>
<div class="c" style="left:0px;top:259.8px;width:70px">7</div>
<div class="c n" style="left:75.6px;top:259.8px;width:355px"><span class="dg">[</span>香港<span class="dg">9</span><span class="hy">-</span>动态家宽<span class="hy">-</span>Emby<span class="dg">]</span><svg class="sp" width="20" height="20" viewBox="0 0 20 20"><path d="M11.30 0.80 Q12.08 8.54 19.10 9.40 Q12.08 10.26 11.30 18.00 Q10.52 10.26 3.50 9.40 Q10.52 8.54 11.30 0.80ZM3.10 0.60 Q3.47 3.24 6.20 3.60 Q3.47 3.96 3.10 6.60 Q2.73 3.96 0.00 3.60 Q2.73 3.24 3.10 0.60ZM5.40 11.90 Q5.75 14.89 8.30 15.30 Q5.75 15.71 5.40 18.70 Q5.05 15.71 2.50 15.30 Q5.05 14.89 5.40 11.90Z" fill="#ffac33"/></svg>2x</div>
<div class="c" style="left:433.4px;top:259.8px;width:149px">Shadowsocks</div>
<div class="c" style="left:582.4px;top:259.8px;width:104.6px">44ms</div>
<div class="c" style="left:687px;top:259.8px;width:123.75px">1.9</div>
<div class="c" style="left:810.75px;top:259.8px;width:118px">97ms</div>
<div class="c" style="left:928.75px;top:259.8px;width:115.5px">67.36MB</div>
<div class="c" style="left:1044.25px;top:259.8px;width:108.25px">74.43MB</div>
<div class="c" style="left:1249px;top:259.8px;width:215px">PortRestrictedCone</div>
<div class="c" style="left:0px;top:292.3px;width:70px">8</div>
<div class="c n" style="left:75.6px;top:292.3px;width:355px"><span class="dg">[</span>台湾地区<span class="dg">1</span><span class="dg">]</span><svg class="sp" width="20" height="20" viewBox="0 0 20 20"><path d="M11.30 0.80 Q12.08 8.54 19.10 9.40 Q12.08 10.26 11.30 18.00 Q10.52 10.26 3.50 9.40 Q10.52 8.54 11.30 0.80ZM3.10 0.60 Q3.47 3.24 6.20 3.60 Q3.47 3.96 3.10 6.60 Q2.73 3.96 0.00 3.60 Q2.73 3.24 3.10 0.60ZM5.40 11.90 Q5.75 14.89 8.30 15.30 Q5.75 15.71 5.40 18.70 Q5.05 15.71 2.50 15.30 Q5.05 14.89 5.40 11.90Z" fill="#ffac33"/></svg>2x</div>
<div class="c" style="left:433.4px;top:292.3px;width:149px">Shadowsocks</div>
<div class="c" style="left:582.4px;top:292.3px;width:104.6px">53ms</div>
<div class="c" style="left:687px;top:292.3px;width:123.75px">4.1</div>
<div class="c" style="left:810.75px;top:292.3px;width:118px">114ms</div>
<div class="c" style="left:928.75px;top:292.3px;width:115.5px">65.88MB</div>
<div class="c" style="left:1044.25px;top:292.3px;width:108.25px">77.70MB</div>
<div class="c" style="left:1249px;top:292.3px;width:215px">Unknown</div>
<div class="c" style="left:0px;top:324.8px;width:70px">9</div>
<div class="c n" style="left:75.6px;top:324.8px;width:355px"><span class="dg">[</span>台湾地区<span class="dg">4</span><span class="dg">]</span><svg class="sp" width="20" height="20" viewBox="0 0 20 20"><path d="M11.30 0.80 Q12.08 8.54 19.10 9.40 Q12.08 10.26 11.30 18.00 Q10.52 10.26 3.50 9.40 Q10.52 8.54 11.30 0.80ZM3.10 0.60 Q3.47 3.24 6.20 3.60 Q3.47 3.96 3.10 6.60 Q2.73 3.96 0.00 3.60 Q2.73 3.24 3.10 0.60ZM5.40 11.90 Q5.75 14.89 8.30 15.30 Q5.75 15.71 5.40 18.70 Q5.05 15.71 2.50 15.30 Q5.05 14.89 5.40 11.90Z" fill="#ffac33"/></svg>2x</div>
<div class="c" style="left:433.4px;top:324.8px;width:149px">Shadowsocks</div>
<div class="c" style="left:582.4px;top:324.8px;width:104.6px">93ms</div>
<div class="c" style="left:687px;top:324.8px;width:123.75px">4.2</div>
<div class="c" style="left:810.75px;top:324.8px;width:118px">238ms</div>
<div class="c" style="left:928.75px;top:324.8px;width:115.5px">24.27MB</div>
<div class="c" style="left:1044.25px;top:324.8px;width:108.25px">45.14MB</div>
<div class="c" style="left:1249px;top:324.8px;width:215px">FullCone</div>
<div class="c" style="left:0px;top:357.3px;width:70px">10</div>
<div class="c n" style="left:75.6px;top:357.3px;width:355px"><span class="dg">[</span>巴西<span class="dg">1</span><span class="dg">]</span><svg class="sp" width="20" height="20" viewBox="0 0 20 20"><path d="M11.30 0.80 Q12.08 8.54 19.10 9.40 Q12.08 10.26 11.30 18.00 Q10.52 10.26 3.50 9.40 Q10.52 8.54 11.30 0.80ZM3.10 0.60 Q3.47 3.24 6.20 3.60 Q3.47 3.96 3.10 6.60 Q2.73 3.96 0.00 3.60 Q2.73 3.24 3.10 0.60ZM5.40 11.90 Q5.75 14.89 8.30 15.30 Q5.75 15.71 5.40 18.70 Q5.05 15.71 2.50 15.30 Q5.05 14.89 5.40 11.90Z" fill="#ffac33"/></svg>2x</div>
<div class="c" style="left:433.4px;top:357.3px;width:149px">Shadowsocks</div>
<div class="c" style="left:582.4px;top:357.3px;width:104.6px">383ms</div>
<div class="c" style="left:687px;top:357.3px;width:123.75px">4.2</div>
<div class="c" style="left:810.75px;top:357.3px;width:118px">775ms</div>
<div class="c" style="left:928.75px;top:357.3px;width:115.5px">4.78MB</div>
<div class="c" style="left:1044.25px;top:357.3px;width:108.25px">8.76MB</div>
<div class="c" style="left:1249px;top:357.3px;width:215px">Unknown</div>
<div class="c" style="left:0px;top:389.8px;width:70px">11</div>
<div class="c n" style="left:75.6px;top:389.8px;width:355px"><span class="dg">[</span>日本<span class="dg">1</span><span class="dg">]</span><svg class="sp" width="20" height="20" viewBox="0 0 20 20"><path d="M11.30 0.80 Q12.08 8.54 19.10 9.40 Q12.08 10.26 11.30 18.00 Q10.52 10.26 3.50 9.40 Q10.52 8.54 11.30 0.80ZM3.10 0.60 Q3.47 3.24 6.20 3.60 Q3.47 3.96 3.10 6.60 Q2.73 3.96 0.00 3.60 Q2.73 3.24 3.10 0.60ZM5.40 11.90 Q5.75 14.89 8.30 15.30 Q5.75 15.71 5.40 18.70 Q5.05 15.71 2.50 15.30 Q5.05 14.89 5.40 11.90Z" fill="#ffac33"/></svg>2x</div>
<div class="c" style="left:433.4px;top:389.8px;width:149px">Shadowsocks</div>
<div class="c" style="left:582.4px;top:389.8px;width:104.6px">94ms</div>
<div class="c" style="left:687px;top:389.8px;width:123.75px">3.4</div>
<div class="c" style="left:810.75px;top:389.8px;width:118px">190ms</div>
<div class="c" style="left:928.75px;top:389.8px;width:115.5px">41.16MB</div>
<div class="c" style="left:1044.25px;top:389.8px;width:108.25px">51.00MB</div>
<div class="c" style="left:1249px;top:389.8px;width:215px">FullCone</div>
<div class="c" style="left:0px;top:422.3px;width:70px">12</div>
<div class="c n" style="left:75.6px;top:422.3px;width:355px"><span class="dg">[</span>日本<span class="dg">2</span><span class="dg">]</span><svg class="sp" width="20" height="20" viewBox="0 0 20 20"><path d="M11.30 0.80 Q12.08 8.54 19.10 9.40 Q12.08 10.26 11.30 18.00 Q10.52 10.26 3.50 9.40 Q10.52 8.54 11.30 0.80ZM3.10 0.60 Q3.47 3.24 6.20 3.60 Q3.47 3.96 3.10 6.60 Q2.73 3.96 0.00 3.60 Q2.73 3.24 3.10 0.60ZM5.40 11.90 Q5.75 14.89 8.30 15.30 Q5.75 15.71 5.40 18.70 Q5.05 15.71 2.50 15.30 Q5.05 14.89 5.40 11.90Z" fill="#ffac33"/></svg>2x</div>
<div class="c" style="left:433.4px;top:422.3px;width:149px">Shadowsocks</div>
<div class="c" style="left:582.4px;top:422.3px;width:104.6px">91ms</div>
<div class="c" style="left:687px;top:422.3px;width:123.75px">8.3</div>
<div class="c" style="left:810.75px;top:422.3px;width:118px">189ms</div>
<div class="c" style="left:928.75px;top:422.3px;width:115.5px">64.57MB</div>
<div class="c" style="left:1044.25px;top:422.3px;width:108.25px">83.85MB</div>
<div class="c" style="left:1249px;top:422.3px;width:215px">FullCone</div>
<div class="c" style="left:0px;top:454.8px;width:70px">13</div>
<div class="c n" style="left:75.6px;top:454.8px;width:355px"><span class="dg">[</span>直连<span class="hy">-</span>台湾<span class="dg">1</span><span class="dg">]</span><svg class="sp" width="20" height="20" viewBox="0 0 20 20"><path d="M11.30 0.80 Q12.08 8.54 19.10 9.40 Q12.08 10.26 11.30 18.00 Q10.52 10.26 3.50 9.40 Q10.52 8.54 11.30 0.80ZM3.10 0.60 Q3.47 3.24 6.20 3.60 Q3.47 3.96 3.10 6.60 Q2.73 3.96 0.00 3.60 Q2.73 3.24 3.10 0.60ZM5.40 11.90 Q5.75 14.89 8.30 15.30 Q5.75 15.71 5.40 18.70 Q5.05 15.71 2.50 15.30 Q5.05 14.89 5.40 11.90Z" fill="#ffac33"/></svg>2x</div>
<div class="c" style="left:433.4px;top:454.8px;width:149px">Vmess</div>
<div class="c" style="left:582.4px;top:454.8px;width:104.6px">70ms</div>
<div class="c" style="left:687px;top:454.8px;width:123.75px">7.7</div>
<div class="c" style="left:810.75px;top:454.8px;width:118px">168ms</div>
<div class="c" style="left:928.75px;top:454.8px;width:115.5px">872.55KB</div>
<div class="c" style="left:1044.25px;top:454.8px;width:108.25px">3.29MB</div>
<div class="c" style="left:1249px;top:454.8px;width:215px">PortRestrictedCone</div>
<div class="c" style="left:0px;top:487.3px;width:70px">14</div>
<div class="c n" style="left:75.6px;top:487.3px;width:355px"><span class="dg">[</span>美国<span class="dg">1</span><span class="dg">]</span><svg class="sp" width="20" height="20" viewBox="0 0 20 20"><path d="M11.30 0.80 Q12.08 8.54 19.10 9.40 Q12.08 10.26 11.30 18.00 Q10.52 10.26 3.50 9.40 Q10.52 8.54 11.30 0.80ZM3.10 0.60 Q3.47 3.24 6.20 3.60 Q3.47 3.96 3.10 6.60 Q2.73 3.96 0.00 3.60 Q2.73 3.24 3.10 0.60ZM5.40 11.90 Q5.75 14.89 8.30 15.30 Q5.75 15.71 5.40 18.70 Q5.05 15.71 2.50 15.30 Q5.05 14.89 5.40 11.90Z" fill="#ffac33"/></svg>2x</div>
<div class="c" style="left:433.4px;top:487.3px;width:149px">Shadowsocks</div>
<div class="c" style="left:582.4px;top:487.3px;width:104.6px">181ms</div>
<div class="c" style="left:687px;top:487.3px;width:123.75px">7.4</div>
<div class="c" style="left:810.75px;top:487.3px;width:118px">367ms</div>
<div class="c" style="left:928.75px;top:487.3px;width:115.5px">16.62MB</div>
<div class="c" style="left:1044.25px;top:487.3px;width:108.25px">21.05MB</div>
<div class="c" style="left:1249px;top:487.3px;width:215px">Unknown</div>
<div class="c" style="left:0px;top:519.8px;width:70px">15</div>
<div class="c n" style="left:75.6px;top:519.8px;width:355px"><span class="dg">[</span>美国<span class="dg">6</span><span class="dg">]</span><svg class="sp" width="20" height="20" viewBox="0 0 20 20"><path d="M11.30 0.80 Q12.08 8.54 19.10 9.40 Q12.08 10.26 11.30 18.00 Q10.52 10.26 3.50 9.40 Q10.52 8.54 11.30 0.80ZM3.10 0.60 Q3.47 3.24 6.20 3.60 Q3.47 3.96 3.10 6.60 Q2.73 3.96 0.00 3.60 Q2.73 3.24 3.10 0.60ZM5.40 11.90 Q5.75 14.89 8.30 15.30 Q5.75 15.71 5.40 18.70 Q5.05 15.71 2.50 15.30 Q5.05 14.89 5.40 11.90Z" fill="#ffac33"/></svg>2x</div>
<div class="c" style="left:433.4px;top:519.8px;width:149px">Shadowsocks</div>
<div class="c" style="left:582.4px;top:519.8px;width:104.6px">230ms</div>
<div class="c" style="left:687px;top:519.8px;width:123.75px">4</div>
<div class="c" style="left:810.75px;top:519.8px;width:118px">465ms</div>
<div class="c" style="left:928.75px;top:519.8px;width:115.5px">7.90MB</div>
<div class="c" style="left:1044.25px;top:519.8px;width:108.25px">10.54MB</div>
<div class="c" style="left:1249px;top:519.8px;width:215px">Unknown</div>
<div class="c" style="left:0px;top:552.3px;width:70px">16</div>
<div class="c n" style="left:75.6px;top:552.3px;width:355px"><span class="dg">[</span>美国<span class="dg">7</span><span class="dg">]</span><svg class="sp" width="20" height="20" viewBox="0 0 20 20"><path d="M11.30 0.80 Q12.08 8.54 19.10 9.40 Q12.08 10.26 11.30 18.00 Q10.52 10.26 3.50 9.40 Q10.52 8.54 11.30 0.80ZM3.10 0.60 Q3.47 3.24 6.20 3.60 Q3.47 3.96 3.10 6.60 Q2.73 3.96 0.00 3.60 Q2.73 3.24 3.10 0.60ZM5.40 11.90 Q5.75 14.89 8.30 15.30 Q5.75 15.71 5.40 18.70 Q5.05 15.71 2.50 15.30 Q5.05 14.89 5.40 11.90Z" fill="#ffac33"/></svg>2x</div>
<div class="c" style="left:433.4px;top:552.3px;width:149px">Shadowsocks</div>
<div class="c" style="left:582.4px;top:552.3px;width:104.6px">236ms</div>
<div class="c" style="left:687px;top:552.3px;width:123.75px">6.5</div>
<div class="c" style="left:810.75px;top:552.3px;width:118px">467ms</div>
<div class="c" style="left:928.75px;top:552.3px;width:115.5px">6.81MB</div>
<div class="c" style="left:1044.25px;top:552.3px;width:108.25px">10.08MB</div>
<div class="c" style="left:1249px;top:552.3px;width:215px">Unknown</div>
<div class="c" style="left:0px;top:584.8px;width:70px">17</div>
<div class="c n" style="left:75.6px;top:584.8px;width:355px"><span class="dg">[</span>英国<span class="dg">1</span><span class="dg">]</span><svg class="sp" width="20" height="20" viewBox="0 0 20 20"><path d="M11.30 0.80 Q12.08 8.54 19.10 9.40 Q12.08 10.26 11.30 18.00 Q10.52 10.26 3.50 9.40 Q10.52 8.54 11.30 0.80ZM3.10 0.60 Q3.47 3.24 6.20 3.60 Q3.47 3.96 3.10 6.60 Q2.73 3.96 0.00 3.60 Q2.73 3.24 3.10 0.60ZM5.40 11.90 Q5.75 14.89 8.30 15.30 Q5.75 15.71 5.40 18.70 Q5.05 15.71 2.50 15.30 Q5.05 14.89 5.40 11.90Z" fill="#ffac33"/></svg>2x</div>
<div class="c" style="left:433.4px;top:584.8px;width:149px">Shadowsocks</div>
<div class="c" style="left:582.4px;top:584.8px;width:104.6px">220ms</div>
<div class="c" style="left:687px;top:584.8px;width:123.75px">4.2</div>
<div class="c" style="left:810.75px;top:584.8px;width:118px">452ms</div>
<div class="c" style="left:928.75px;top:584.8px;width:115.5px">14.34MB</div>
<div class="c" style="left:1044.25px;top:584.8px;width:108.25px">18.68MB</div>
<div class="c" style="left:1249px;top:584.8px;width:215px">Unknown</div>
<div class="c" style="left:0px;top:617.3px;width:70px">18</div>
<div class="c n" style="left:75.6px;top:617.3px;width:355px"><span class="dg">[</span>韩国<span class="dg">1</span><span class="dg">]</span><svg class="sp" width="20" height="20" viewBox="0 0 20 20"><path d="M11.30 0.80 Q12.08 8.54 19.10 9.40 Q12.08 10.26 11.30 18.00 Q10.52 10.26 3.50 9.40 Q10.52 8.54 11.30 0.80ZM3.10 0.60 Q3.47 3.24 6.20 3.60 Q3.47 3.96 3.10 6.60 Q2.73 3.96 0.00 3.60 Q2.73 3.24 3.10 0.60ZM5.40 11.90 Q5.75 14.89 8.30 15.30 Q5.75 15.71 5.40 18.70 Q5.05 15.71 2.50 15.30 Q5.05 14.89 5.40 11.90Z" fill="#ffac33"/></svg>2x</div>
<div class="c" style="left:433.4px;top:617.3px;width:149px">Shadowsocks</div>
<div class="c" style="left:582.4px;top:617.3px;width:104.6px">112ms</div>
<div class="c" style="left:687px;top:617.3px;width:123.75px">15.9</div>
<div class="c" style="left:810.75px;top:617.3px;width:118px">242ms</div>
<div class="c" style="left:928.75px;top:617.3px;width:115.5px">50.88MB</div>
<div class="c" style="left:1044.25px;top:617.3px;width:108.25px">63.86MB</div>
<div class="c" style="left:1249px;top:617.3px;width:215px">Unknown</div>
<div class="c" style="left:0px;top:649.8px;width:70px">19</div>
<div class="c n" style="left:75.6px;top:649.8px;width:355px"><span class="dg">[</span>家宽<span class="hy">-</span>台湾<span class="dg">1</span><span class="dg">]</span><svg class="sp" width="20" height="20" viewBox="0 0 20 20"><path d="M11.30 0.80 Q12.08 8.54 19.10 9.40 Q12.08 10.26 11.30 18.00 Q10.52 10.26 3.50 9.40 Q10.52 8.54 11.30 0.80ZM3.10 0.60 Q3.47 3.24 6.20 3.60 Q3.47 3.96 3.10 6.60 Q2.73 3.96 0.00 3.60 Q2.73 3.24 3.10 0.60ZM5.40 11.90 Q5.75 14.89 8.30 15.30 Q5.75 15.71 5.40 18.70 Q5.05 15.71 2.50 15.30 Q5.05 14.89 5.40 11.90Z" fill="#ffac33"/></svg>2x</div>
<div class="c" style="left:433.4px;top:649.8px;width:149px">Vmess</div>
<div class="c" style="left:582.4px;top:649.8px;width:104.6px">74ms</div>
<div class="c" style="left:687px;top:649.8px;width:123.75px">10</div>
<div class="c" style="left:810.75px;top:649.8px;width:118px">965ms</div>
<div class="c" style="left:928.75px;top:649.8px;width:115.5px">35.58MB</div>
<div class="c" style="left:1044.25px;top:649.8px;width:108.25px">41.01MB</div>
<div class="c" style="left:1249px;top:649.8px;width:215px">PortRestrictedCone</div>
<div class="c" style="left:0px;top:682.3px;width:70px">20</div>
<div class="c n" style="left:75.6px;top:682.3px;width:355px"><span class="dg">[</span>家宽<span class="hy">-</span>美国<span class="dg">1</span><span class="dg">]</span><svg class="sp" width="20" height="20" viewBox="0 0 20 20"><path d="M11.30 0.80 Q12.08 8.54 19.10 9.40 Q12.08 10.26 11.30 18.00 Q10.52 10.26 3.50 9.40 Q10.52 8.54 11.30 0.80ZM3.10 0.60 Q3.47 3.24 6.20 3.60 Q3.47 3.96 3.10 6.60 Q2.73 3.96 0.00 3.60 Q2.73 3.24 3.10 0.60ZM5.40 11.90 Q5.75 14.89 8.30 15.30 Q5.75 15.71 5.40 18.70 Q5.05 15.71 2.50 15.30 Q5.05 14.89 5.40 11.90Z" fill="#ffac33"/></svg>2x</div>
<div class="c" style="left:433.4px;top:682.3px;width:149px">Shadowsocks</div>
<div class="c" style="left:582.4px;top:682.3px;width:104.6px">193ms</div>
<div class="c" style="left:687px;top:682.3px;width:123.75px">6.2</div>
<div class="c" style="left:810.75px;top:682.3px;width:118px">395ms</div>
<div class="c" style="left:928.75px;top:682.3px;width:115.5px">16.62MB</div>
<div class="c" style="left:1044.25px;top:682.3px;width:108.25px">20.35MB</div>
<div class="c" style="left:1249px;top:682.3px;width:215px">FullCone</div>
<div class="c" style="left:0px;top:714.8px;width:70px">21</div>
<div class="c n" style="left:75.6px;top:714.8px;width:355px"><span class="dg">[</span>加拿大<span class="dg">1</span><span class="dg">]</span><svg class="sp" width="20" height="20" viewBox="0 0 20 20"><path d="M11.30 0.80 Q12.08 8.54 19.10 9.40 Q12.08 10.26 11.30 18.00 Q10.52 10.26 3.50 9.40 Q10.52 8.54 11.30 0.80ZM3.10 0.60 Q3.47 3.24 6.20 3.60 Q3.47 3.96 3.10 6.60 Q2.73 3.96 0.00 3.60 Q2.73 3.24 3.10 0.60ZM5.40 11.90 Q5.75 14.89 8.30 15.30 Q5.75 15.71 5.40 18.70 Q5.05 15.71 2.50 15.30 Q5.05 14.89 5.40 11.90Z" fill="#ffac33"/></svg>2x</div>
<div class="c" style="left:433.4px;top:714.8px;width:149px">Shadowsocks</div>
<div class="c" style="left:582.4px;top:714.8px;width:104.6px">255ms</div>
<div class="c" style="left:687px;top:714.8px;width:123.75px">4.4</div>
<div class="c" style="left:810.75px;top:714.8px;width:118px">517ms</div>
<div class="c" style="left:928.75px;top:714.8px;width:115.5px">10.43MB</div>
<div class="c" style="left:1044.25px;top:714.8px;width:108.25px">14.19MB</div>
<div class="c" style="left:1249px;top:714.8px;width:215px">Unknown</div>
<div class="c" style="left:0px;top:747.3px;width:70px">22</div>
<div class="c n" style="left:75.6px;top:747.3px;width:355px"><span class="dg">[</span>印度<span class="dg">1</span><span class="dg">]</span><svg class="sp" width="20" height="20" viewBox="0 0 20 20"><path d="M11.30 0.80 Q12.08 8.54 19.10 9.40 Q12.08 10.26 11.30 18.00 Q10.52 10.26 3.50 9.40 Q10.52 8.54 11.30 0.80ZM3.10 0.60 Q3.47 3.24 6.20 3.60 Q3.47 3.96 3.10 6.60 Q2.73 3.96 0.00 3.60 Q2.73 3.24 3.10 0.60ZM5.40 11.90 Q5.75 14.89 8.30 15.30 Q5.75 15.71 5.40 18.70 Q5.05 15.71 2.50 15.30 Q5.05 14.89 5.40 11.90Z" fill="#ffac33"/></svg>2x</div>
<div class="c" style="left:433.4px;top:747.3px;width:149px">Shadowsocks</div>
<div class="c" style="left:582.4px;top:747.3px;width:104.6px">118ms</div>
<div class="c" style="left:687px;top:747.3px;width:123.75px">3.9</div>
<div class="c" style="left:810.75px;top:747.3px;width:118px">240ms</div>
<div class="c" style="left:928.75px;top:747.3px;width:115.5px">34.13MB</div>
<div class="c" style="left:1044.25px;top:747.3px;width:108.25px">39.08MB</div>
<div class="c" style="left:1249px;top:747.3px;width:215px">Unknown</div>
<div class="c" style="left:0px;top:779.8px;width:70px">23</div>
<div class="c n" style="left:75.6px;top:779.8px;width:355px"><span class="dg">[</span>孟加拉<span class="dg">]</span><svg class="sp" width="20" height="20" viewBox="0 0 20 20"><path d="M11.30 0.80 Q12.08 8.54 19.10 9.40 Q12.08 10.26 11.30 18.00 Q10.52 10.26 3.50 9.40 Q10.52 8.54 11.30 0.80ZM3.10 0.60 Q3.47 3.24 6.20 3.60 Q3.47 3.96 3.10 6.60 Q2.73 3.96 0.00 3.60 Q2.73 3.24 3.10 0.60ZM5.40 11.90 Q5.75 14.89 8.30 15.30 Q5.75 15.71 5.40 18.70 Q5.05 15.71 2.50 15.30 Q5.05 14.89 5.40 11.90Z" fill="#ffac33"/></svg>2x</div>
<div class="c" style="left:433.4px;top:779.8px;width:149px">Shadowsocks</div>
<div class="c" style="left:582.4px;top:779.8px;width:104.6px">170ms</div>
<div class="c" style="left:687px;top:779.8px;width:123.75px">6.5</div>
<div class="c" style="left:810.75px;top:779.8px;width:118px">651ms</div>
<div class="c" style="left:928.75px;top:779.8px;width:115.5px">1.25MB</div>
<div class="c" style="left:1044.25px;top:779.8px;width:108.25px">3.34MB</div>
<div class="c" style="left:1249px;top:779.8px;width:215px">Unknown</div>
<div class="c" style="left:0px;top:812.3px;width:70px">24</div>
<div class="c n" style="left:75.6px;top:812.3px;width:355px"><span class="dg">[</span>德国<span class="dg">1</span><span class="dg">]</span><svg class="sp" width="20" height="20" viewBox="0 0 20 20"><path d="M11.30 0.80 Q12.08 8.54 19.10 9.40 Q12.08 10.26 11.30 18.00 Q10.52 10.26 3.50 9.40 Q10.52 8.54 11.30 0.80ZM3.10 0.60 Q3.47 3.24 6.20 3.60 Q3.47 3.96 3.10 6.60 Q2.73 3.96 0.00 3.60 Q2.73 3.24 3.10 0.60ZM5.40 11.90 Q5.75 14.89 8.30 15.30 Q5.75 15.71 5.40 18.70 Q5.05 15.71 2.50 15.30 Q5.05 14.89 5.40 11.90Z" fill="#ffac33"/></svg>2x</div>
<div class="c" style="left:433.4px;top:812.3px;width:149px">Shadowsocks</div>
<div class="c" style="left:582.4px;top:812.3px;width:104.6px">281ms</div>
<div class="c" style="left:687px;top:812.3px;width:123.75px">4.6</div>
<div class="c" style="left:810.75px;top:812.3px;width:118px">568ms</div>
<div class="c" style="left:928.75px;top:812.3px;width:115.5px">8.64MB</div>
<div class="c" style="left:1044.25px;top:812.3px;width:108.25px">12.44MB</div>
<div class="c" style="left:1249px;top:812.3px;width:215px">Unknown</div>
<div class="c" style="left:0px;top:844.8px;width:70px">25</div>
<div class="c n" style="left:75.6px;top:844.8px;width:355px"><span class="dg">[</span>德国<span class="dg">2</span><span class="dg">]</span><svg class="sp" width="20" height="20" viewBox="0 0 20 20"><path d="M11.30 0.80 Q12.08 8.54 19.10 9.40 Q12.08 10.26 11.30 18.00 Q10.52 10.26 3.50 9.40 Q10.52 8.54 11.30 0.80ZM3.10 0.60 Q3.47 3.24 6.20 3.60 Q3.47 3.96 3.10 6.60 Q2.73 3.96 0.00 3.60 Q2.73 3.24 3.10 0.60ZM5.40 11.90 Q5.75 14.89 8.30 15.30 Q5.75 15.71 5.40 18.70 Q5.05 15.71 2.50 15.30 Q5.05 14.89 5.40 11.90Z" fill="#ffac33"/></svg>2x</div>
<div class="c" style="left:433.4px;top:844.8px;width:149px">Shadowsocks</div>
<div class="c" style="left:582.4px;top:844.8px;width:104.6px">283ms</div>
<div class="c" style="left:687px;top:844.8px;width:123.75px">250.2</div>
<div class="c" style="left:810.75px;top:844.8px;width:118px">855ms</div>
<div class="c" style="left:928.75px;top:844.8px;width:115.5px">16.09MB</div>
<div class="c" style="left:1044.25px;top:844.8px;width:108.25px">25.92MB</div>
<div class="c" style="left:1249px;top:844.8px;width:215px">Unknown</div>
<div class="c" style="left:0px;top:877.3px;width:70px">26</div>
<div class="c n" style="left:75.6px;top:877.3px;width:355px"><span class="dg">[</span>德国<span class="dg">3</span><span class="dg">]</span><svg class="sp" width="20" height="20" viewBox="0 0 20 20"><path d="M11.30 0.80 Q12.08 8.54 19.10 9.40 Q12.08 10.26 11.30 18.00 Q10.52 10.26 3.50 9.40 Q10.52 8.54 11.30 0.80ZM3.10 0.60 Q3.47 3.24 6.20 3.60 Q3.47 3.96 3.10 6.60 Q2.73 3.96 0.00 3.60 Q2.73 3.24 3.10 0.60ZM5.40 11.90 Q5.75 14.89 8.30 15.30 Q5.75 15.71 5.40 18.70 Q5.05 15.71 2.50 15.30 Q5.05 14.89 5.40 11.90Z" fill="#ffac33"/></svg>2x</div>
<div class="c" style="left:433.4px;top:877.3px;width:149px">Shadowsocks</div>
<div class="c" style="left:582.4px;top:877.3px;width:104.6px">283ms</div>
<div class="c" style="left:687px;top:877.3px;width:123.75px">4.4</div>
<div class="c" style="left:810.75px;top:877.3px;width:118px">571ms</div>
<div class="c" style="left:928.75px;top:877.3px;width:115.5px">2.26MB</div>
<div class="c" style="left:1044.25px;top:877.3px;width:108.25px">2.98MB</div>
<div class="c" style="left:1249px;top:877.3px;width:215px">Unknown</div>
<div class="c" style="left:0px;top:909.8px;width:70px">27</div>
<div class="c n" style="left:75.6px;top:909.8px;width:355px"><span class="dg">[</span>新加坡<span class="dg">1</span><span class="dg">]</span><svg class="sp" width="20" height="20" viewBox="0 0 20 20"><path d="M11.30 0.80 Q12.08 8.54 19.10 9.40 Q12.08 10.26 11.30 18.00 Q10.52 10.26 3.50 9.40 Q10.52 8.54 11.30 0.80ZM3.10 0.60 Q3.47 3.24 6.20 3.60 Q3.47 3.96 3.10 6.60 Q2.73 3.96 0.00 3.60 Q2.73 3.24 3.10 0.60ZM5.40 11.90 Q5.75 14.89 8.30 15.30 Q5.75 15.71 5.40 18.70 Q5.05 15.71 2.50 15.30 Q5.05 14.89 5.40 11.90Z" fill="#ffac33"/></svg>2x</div>
<div class="c" style="left:433.4px;top:909.8px;width:149px">Shadowsocks</div>
<div class="c" style="left:582.4px;top:909.8px;width:104.6px">72ms</div>
<div class="c" style="left:687px;top:909.8px;width:123.75px">4.1</div>
<div class="c" style="left:810.75px;top:909.8px;width:118px">152ms</div>
<div class="c" style="left:928.75px;top:909.8px;width:115.5px">67.16MB</div>
<div class="c" style="left:1044.25px;top:909.8px;width:108.25px">79.59MB</div>
<div class="c" style="left:1249px;top:909.8px;width:215px">Unknown</div>
<div class="c" style="left:0px;top:942.3px;width:70px">28</div>
<div class="c n" style="left:75.6px;top:942.3px;width:355px"><span class="dg">[</span>新加坡<span class="dg">4</span><span class="dg">]</span><svg class="sp" width="20" height="20" viewBox="0 0 20 20"><path d="M11.30 0.80 Q12.08 8.54 19.10 9.40 Q12.08 10.26 11.30 18.00 Q10.52 10.26 3.50 9.40 Q10.52 8.54 11.30 0.80ZM3.10 0.60 Q3.47 3.24 6.20 3.60 Q3.47 3.96 3.10 6.60 Q2.73 3.96 0.00 3.60 Q2.73 3.24 3.10 0.60ZM5.40 11.90 Q5.75 14.89 8.30 15.30 Q5.75 15.71 5.40 18.70 Q5.05 15.71 2.50 15.30 Q5.05 14.89 5.40 11.90Z" fill="#ffac33"/></svg>2x</div>
<div class="c" style="left:433.4px;top:942.3px;width:149px">Shadowsocks</div>
<div class="c" style="left:582.4px;top:942.3px;width:104.6px">73ms</div>
<div class="c" style="left:687px;top:942.3px;width:123.75px">4.2</div>
<div class="c" style="left:810.75px;top:942.3px;width:118px">155ms</div>
<div class="c" style="left:928.75px;top:942.3px;width:115.5px">61.99MB</div>
<div class="c" style="left:1044.25px;top:942.3px;width:108.25px">71.82MB</div>
<div class="c" style="left:1249px;top:942.3px;width:215px">FullCone</div>
<div class="c" style="left:0px;top:974.8px;width:70px">29</div>
<div class="c n" style="left:75.6px;top:974.8px;width:355px"><span class="dg">[</span>马来西亚<span class="dg">]</span><svg class="sp" width="20" height="20" viewBox="0 0 20 20"><path d="M11.30 0.80 Q12.08 8.54 19.10 9.40 Q12.08 10.26 11.30 18.00 Q10.52 10.26 3.50 9.40 Q10.52 8.54 11.30 0.80ZM3.10 0.60 Q3.47 3.24 6.20 3.60 Q3.47 3.96 3.10 6.60 Q2.73 3.96 0.00 3.60 Q2.73 3.24 3.10 0.60ZM5.40 11.90 Q5.75 14.89 8.30 15.30 Q5.75 15.71 5.40 18.70 Q5.05 15.71 2.50 15.30 Q5.05 14.89 5.40 11.90Z" fill="#ffac33"/></svg>2x</div>
<div class="c" style="left:433.4px;top:974.8px;width:149px">Shadowsocks</div>
<div class="c" style="left:582.4px;top:974.8px;width:104.6px">100ms</div>
<div class="c" style="left:687px;top:974.8px;width:123.75px">8.6</div>
<div class="c" style="left:810.75px;top:974.8px;width:118px">225ms</div>
<div class="c" style="left:928.75px;top:974.8px;width:115.5px">39.30MB</div>
<div class="c" style="left:1044.25px;top:974.8px;width:108.25px">48.30MB</div>
<div class="c" style="left:1249px;top:974.8px;width:215px">PortRestrictedCone</div>
<div class="c" style="left:0px;top:1007.3px;width:70px">30</div>
<div class="c n" style="left:75.6px;top:1007.3px;width:355px"><span class="dg">[</span>墨西哥<span class="dg">]</span><svg class="sp" width="20" height="20" viewBox="0 0 20 20"><path d="M11.30 0.80 Q12.08 8.54 19.10 9.40 Q12.08 10.26 11.30 18.00 Q10.52 10.26 3.50 9.40 Q10.52 8.54 11.30 0.80ZM3.10 0.60 Q3.47 3.24 6.20 3.60 Q3.47 3.96 3.10 6.60 Q2.73 3.96 0.00 3.60 Q2.73 3.24 3.10 0.60ZM5.40 11.90 Q5.75 14.89 8.30 15.30 Q5.75 15.71 5.40 18.70 Q5.05 15.71 2.50 15.30 Q5.05 14.89 5.40 11.90Z" fill="#ffac33"/></svg>2x</div>
<div class="c" style="left:433.4px;top:1007.3px;width:149px">Shadowsocks</div>
<div class="c" style="left:582.4px;top:1007.3px;width:104.6px">237ms</div>
<div class="c" style="left:687px;top:1007.3px;width:123.75px">5.4</div>
<div class="c" style="left:810.75px;top:1007.3px;width:118px">493ms</div>
<div class="c" style="left:928.75px;top:1007.3px;width:115.5px">11.21MB</div>
<div class="c" style="left:1044.25px;top:1007.3px;width:108.25px">15.17MB</div>
<div class="c" style="left:1249px;top:1007.3px;width:215px">Unknown</div>
<div class="c n" style="left:23.2px;top:1072.2px"><span id="s6" style="letter-spacing:-0.036px">版本=1.10.2</span></div>
<div class="c n" style="left:135.2px;top:1072.2px"><span id="s7" style="letter-spacing:-0.270px">后端=</span></div>
<div class="c n" style="left:203.2px;top:1072.2px"><span id="s8" style="letter-spacing:-0.108px">西南<span class="hy">-</span>重庆联通</span></div>
<div class="c n" style="left:331.9px;top:1072.2px"><span id="s9" style="letter-spacing:-0.441px">2Gb</span></div>
<div class="c n" style="left:385.9px;top:1072.2px"><span id="s10" style="letter-spacing:0.118px">(4.5.6<span class="hy">-</span>stable)</span></div>
<div class="c n" style="left:507.5px;top:1072.2px"><span id="s11" style="letter-spacing:-0.267px">消耗流量=6.6GB</span></div>
<div class="c n" style="left:656.9px;top:1072.2px"><span id="s12" style="letter-spacing:-0.768px">线程=1</span></div>
<div class="c n" style="left:725.9px;top:1072.2px"><span id="s13" style="letter-spacing:-0.030px">排序=订阅原序</span></div>
<div class="c n" style="left:861.5px;top:1072.2px"><span id="s14" style="letter-spacing:-0.142px">耗时=213s</span></div>
<div class="c n" style="left:962.5px;top:1072.2px"><span id="s15" style="letter-spacing:-0.121px">Ping=10次</span></div>
<div class="c n" style="left:1062.5px;top:1072.2px"><span id="s16" style="letter-spacing:-0.377px">过滤器=</span></div>
<div class="c n" style="left:1135.2px;top:1072.2px"><span id="s17" style="letter-spacing:-0.316px">&lt;<span class="hy">-</span>&gt;</span></div>
<div class="c n" style="left:23.2px;top:1104.1px"><span id="s18" style="letter-spacing:-0.136px">测试时间:</span></div>
<div class="c n" style="left:109.9px;top:1104.1px"><span id="s19" style="letter-spacing:0.164px">2025<span class="hy">-</span>06<span class="hy">-</span>04T20:26:52</span></div>
<div class="c n" style="left:306.2px;top:1104.1px"><span id="s20" style="letter-spacing:-0.421px">(UTC)</span></div>
<div class="c n" style="left:366.5px;top:1104.1px"><span id="s21" style="letter-spacing:0.018px">测试结果仅供参考，以实际情况为准</span></div>
<div class="wm" style="top:23.65px">hts_UID:6946996027</div>
<div class="wm" style="top:72px">hts_UID:6946996027</div>
<div class="wm" style="top:120.35px">hts_UID:6946996027</div>
<div class="wm" style="top:168.7px">hts_UID:6946996027</div>
<div class="wm" style="top:217.05px">hts_UID:6946996027</div>
<div class="wm" style="top:265.4px">hts_UID:6946996027</div>
<div class="wm" style="top:313.75px">hts_UID:6946996027</div>
<div class="wm" style="top:362.1px">hts_UID:6946996027</div>
<div class="wm" style="top:410.45px">hts_UID:6946996027</div>
<div class="wm" style="top:458.8px">hts_UID:6946996027</div>
<div class="wm" style="top:507.15px">hts_UID:6946996027</div>
<div class="wm" style="top:555.5px">hts_UID:6946996027</div>
<div class="wm" style="top:603.85px">hts_UID:6946996027</div>
<div class="wm" style="top:652.2px">hts_UID:6946996027</div>
<div class="wm" style="top:700.55px">hts_UID:6946996027</div>
<div class="wm" style="top:748.9px">hts_UID:6946996027</div>
<div class="wm" style="top:797.25px">hts_UID:6946996027</div>
<div class="wm" style="top:845.6px">hts_UID:6946996027</div>
<div class="wm" style="top:893.95px">hts_UID:6946996027</div>
<div class="wm" style="top:942.3px">hts_UID:6946996027</div>
<div class="wm" style="top:990.65px">hts_UID:6946996027</div>
<div class="wm" style="top:1039px">hts_UID:6946996027</div>
<div class="wm" style="top:1087.35px">hts_UID:6946996027</div>
<div class="wm" style="top:1135.7px">hts_UID:6946996027</div>
</div></body></html>
